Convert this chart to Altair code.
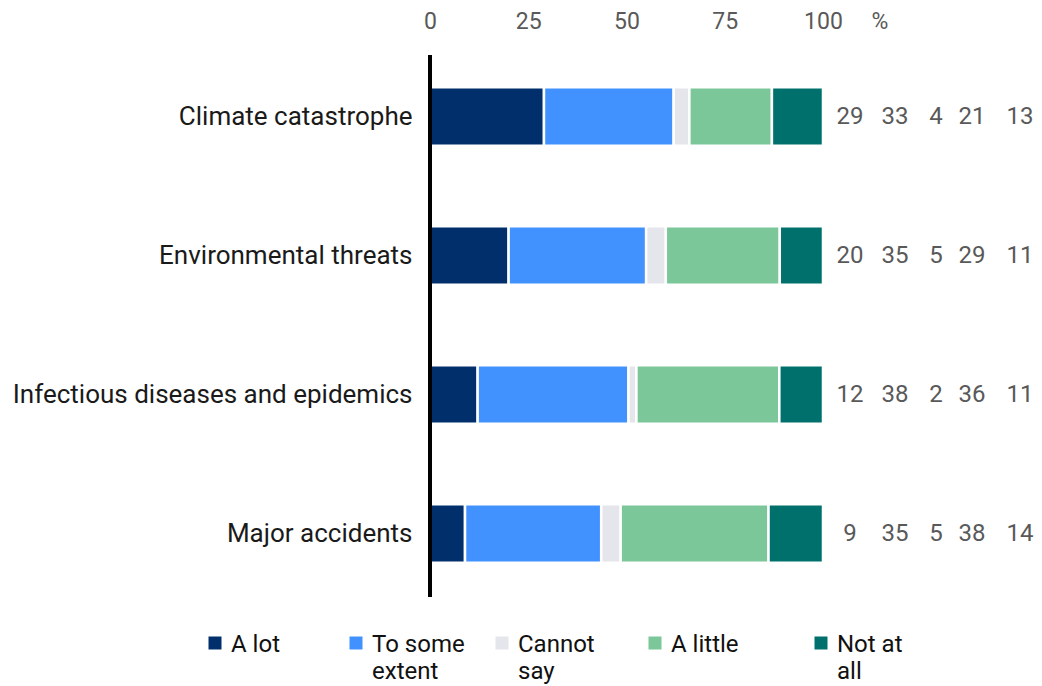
import altair as alt
import pandas as pd

FONT = "Roboto"

categories = [
    "Climate catastrophe",
    "Environmental threats",
    "Infectious diseases and epidemics",
    "Major accidents",
]
responses = ["A lot", "To some extent", "Cannot say", "A little", "Not at all"]
response_lines = ["A lot", "To some\nextent", "Cannot\nsay", "A little", "Not at\nall"]
a_lot = [29, 20, 12, 9]
to_some_extent = [33, 35, 38, 35]
cannot_say = [4, 5, 2, 5]
a_little = [21, 29, 36, 38]
not_at_all = [13, 11, 11, 14]
colors = ["#002F6C", "#4192FF", "#E5E5EC", "#7CC799", "#00706C"]
x_ticks = [0, 25, 50, 75, 100]

series = [a_lot, to_some_extent, cannot_say, a_little, not_at_all]
rows = []
for ci, cat in enumerate(categories):
    for ri, resp in enumerate(responses):
        rows.append({"category": cat, "response": resp, "value": series[ri][ci], "idx": ri})
df = pd.DataFrame(rows)

legend_df = pd.DataFrame(
    {"response": responses, "label": response_lines, "idx": list(range(len(responses)))}
)

color_scale = alt.Scale(domain=responses, range=colors)
idx_domain = list(range(len(responses)))

base = alt.Chart(df)

bars = base.mark_bar(stroke="white", strokeWidth=2.5).encode(
    y=alt.Y(
        "category:N",
        sort=categories,
        scale=alt.Scale(paddingInner=0.58, paddingOuter=0.29),
        axis=alt.Axis(
            title=None, labelFontSize=26, labelColor="#1a1a1a", labelPadding=18,
            ticks=False, domain=False, labelFont=FONT, labelLimit=600,
        ),
    ),
    x=alt.X(
        "value:Q",
        stack="normalize",
        scale=alt.Scale(domain=[0, 1], nice=False),
        axis=alt.Axis(
            title=None, orient="top", values=[t / 100 for t in x_ticks],
            labelExpr="format(datum.value * 100, 'd')",
            labelFontSize=23, labelColor="#595959", labelFont=FONT,
            ticks=False, domain=False, grid=False, labelPadding=14,
            labelFlush=False,
        ),
    ),
    color=alt.Color("response:N", sort=responses, scale=color_scale, legend=None),
    order=alt.Order("idx:Q"),
)

zero_line = base.mark_rule(color="black", strokeWidth=4).encode(
    x=alt.value(0), y=alt.value(8), y2=alt.value(550)
)

nums = base.mark_text(fontSize=24, color="#595959", font=FONT).encode(
    y=alt.Y("category:N", sort=categories),
    x=alt.X(
        "idx:Q",
        scale=alt.Scale(domain=idx_domain, range=[420, 465, 506, 542, 590]),
        axis=None,
    ),
    text="value:Q",
)

pct = alt.Chart(pd.DataFrame({"t": ["%"]})).mark_text(
    fontSize=23, color="#595959", font=FONT, baseline="alphabetic"
).encode(text="t:N", x=alt.value(450), y=alt.value(-18))

legend_x = alt.X(
    "idx:Q",
    scale=alt.Scale(domain=idx_domain, range=[-215, -74, 72, 225, 391]),
    axis=None,
)

leg_sym = alt.Chart(legend_df).mark_square(size=169, opacity=1).encode(
    x=legend_x,
    y=alt.value(596),
    color=alt.Color("response:N", sort=responses, scale=color_scale, legend=None),
)

leg_txt = alt.Chart(legend_df).mark_text(
    align="left", baseline="top", lineBreak="\n", fontSize=24, lineHeight=27,
    font=FONT, color="#111111", dx=16, dy=-10,
).encode(x=legend_x, y=alt.value(596), text="label:N")

chart = (
    alt.layer(bars, zero_line, nums, pct, leg_sym, leg_txt)
    .resolve_scale(x="independent")
    .properties(
        width=393,
        height=556,
        padding={"left": 422, "top": 39, "right": 211, "bottom": 81},
        autosize=alt.AutoSizeParams(type="none"),
    )
    .configure_view(stroke=None)
)

chart.save("out.html", embed_options={"renderer": "svg", "actions": False})
